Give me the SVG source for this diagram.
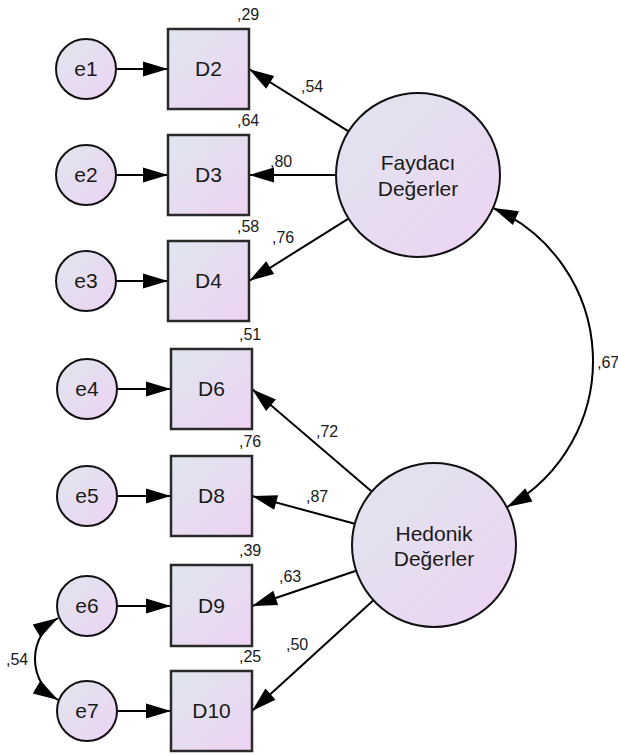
<svg xmlns="http://www.w3.org/2000/svg" width="618" height="755" viewBox="0 0 618 755">
<style>
.box{fill:url(#g);stroke:#2a2a2a;stroke-width:2.5}
.node{fill:url(#g);stroke:#111;stroke-width:2}
.lbl{font-family:"Liberation Sans",Arial,sans-serif;font-size:21px;fill:#1a1a1a;text-anchor:middle}
.num{font-family:"Liberation Sans",Arial,sans-serif;font-size:16px;fill:#1a1a1a}
.c{fill:none;stroke:#000;stroke-width:2;marker-end:url(#ah)}
.cv{fill:none;stroke:#000;stroke-width:2;marker-start:url(#ah);marker-end:url(#ah)}
</style>
<defs>
<linearGradient id="g" x1="0" y1="0" x2="1" y2="1">
<stop offset="0" stop-color="#dfe6ee"/>
<stop offset="1" stop-color="#edd3f2"/>
</linearGradient>
<marker id="ah" markerUnits="userSpaceOnUse" markerWidth="26" markerHeight="15" refX="25" refY="7.5" orient="auto-start-reverse" overflow="visible">
<path d="M0,0 L25,7.5 L0,15 z" fill="#000"/>
</marker>
</defs>
<rect width="618" height="755" fill="#fff"/>
<g id="connectors">
<path class="c" d="M116,69 L168,69"/>
<path class="c" d="M116,175 L168,175"/>
<path class="c" d="M116,281 L168,281"/>
<path class="c" d="M117,389 L171,389"/>
<path class="c" d="M117,496 L171,496"/>
<path class="c" d="M117,606 L171,606"/>
<path class="c" d="M117,711 L171,711"/>
<path class="c" d="M348.5,131.4 L249,69"/>
<path class="c" d="M336,175 L249,175"/>
<path class="c" d="M348.5,218.6 L249,281"/>
<path class="c" d="M371.7,491.6 L252,389"/>
<path class="c" d="M354.8,523.7 L252,496"/>
<path class="c" d="M356.1,570.7 L252,606"/>
<path class="c" d="M373.4,600.3 L252,711"/>
<path class="cv" d="M493,208 A167,167 0 0 1 507,507"/>
<path class="cv" d="M58,618 A48,48 0 0 0 58,700"/>
<text class="num" x="301" y="92">,54</text>
<text class="num" x="270" y="167">,80</text>
<text class="num" x="272" y="243">,76</text>
<text class="num" x="316" y="437">,72</text>
<text class="num" x="306" y="502">,87</text>
<text class="num" x="279" y="582">,63</text>
<text class="num" x="286" y="650">,50</text>
<text class="num" x="6" y="665">,54</text>
<text class="num" x="597" y="368">,67</text>
</g>
<g id="e1"><circle class="node" cx="86" cy="69" r="30"/><text class="lbl" x="86" y="76">e1</text></g>
<g id="e2"><circle class="node" cx="86" cy="175" r="30"/><text class="lbl" x="86" y="182">e2</text></g>
<g id="e3"><circle class="node" cx="86" cy="281" r="30"/><text class="lbl" x="86" y="288">e3</text></g>
<g id="e4"><circle class="node" cx="87" cy="389" r="30"/><text class="lbl" x="87" y="396">e4</text></g>
<g id="e5"><circle class="node" cx="87" cy="496" r="30"/><text class="lbl" x="87" y="503">e5</text></g>
<g id="e6"><circle class="node" cx="87" cy="606" r="30"/><text class="lbl" x="87" y="613">e6</text></g>
<g id="e7"><circle class="node" cx="87" cy="711" r="30"/><text class="lbl" x="87" y="718">e7</text></g>
<g id="D2"><rect class="box" x="168" y="29" width="81" height="80"/><text class="lbl" x="208.5" y="76">D2</text><text class="num" x="237" y="20">,29</text></g>
<g id="D3"><rect class="box" x="168" y="135" width="81" height="80"/><text class="lbl" x="208.5" y="182">D3</text><text class="num" x="237" y="126">,64</text></g>
<g id="D4"><rect class="box" x="168" y="241" width="81" height="80"/><text class="lbl" x="208.5" y="288">D4</text><text class="num" x="237" y="232">,58</text></g>
<g id="D6"><rect class="box" x="171" y="349" width="81" height="80"/><text class="lbl" x="211.5" y="396">D6</text><text class="num" x="239" y="340">,51</text></g>
<g id="D8"><rect class="box" x="171" y="456" width="81" height="80"/><text class="lbl" x="211.5" y="503">D8</text><text class="num" x="239" y="447">,76</text></g>
<g id="D9"><rect class="box" x="171" y="565" width="81" height="81"/><text class="lbl" x="211.5" y="613">D9</text><text class="num" x="239" y="556">,39</text></g>
<g id="D10"><rect class="box" x="171" y="671" width="81" height="80"/><text class="lbl" x="211.5" y="718">D10</text><text class="num" x="239" y="662">,25</text></g>
<g id="Faydaci"><circle class="node" cx="418" cy="175" r="82"/><text class="lbl" x="418" y="170">Faydacı</text><text class="lbl" x="418" y="196">Değerler</text></g>
<g id="Hedonik"><circle class="node" cx="434" cy="545" r="82"/><text class="lbl" x="434" y="541">Hedonik</text><text class="lbl" x="434" y="566">Değerler</text></g>
</svg>
